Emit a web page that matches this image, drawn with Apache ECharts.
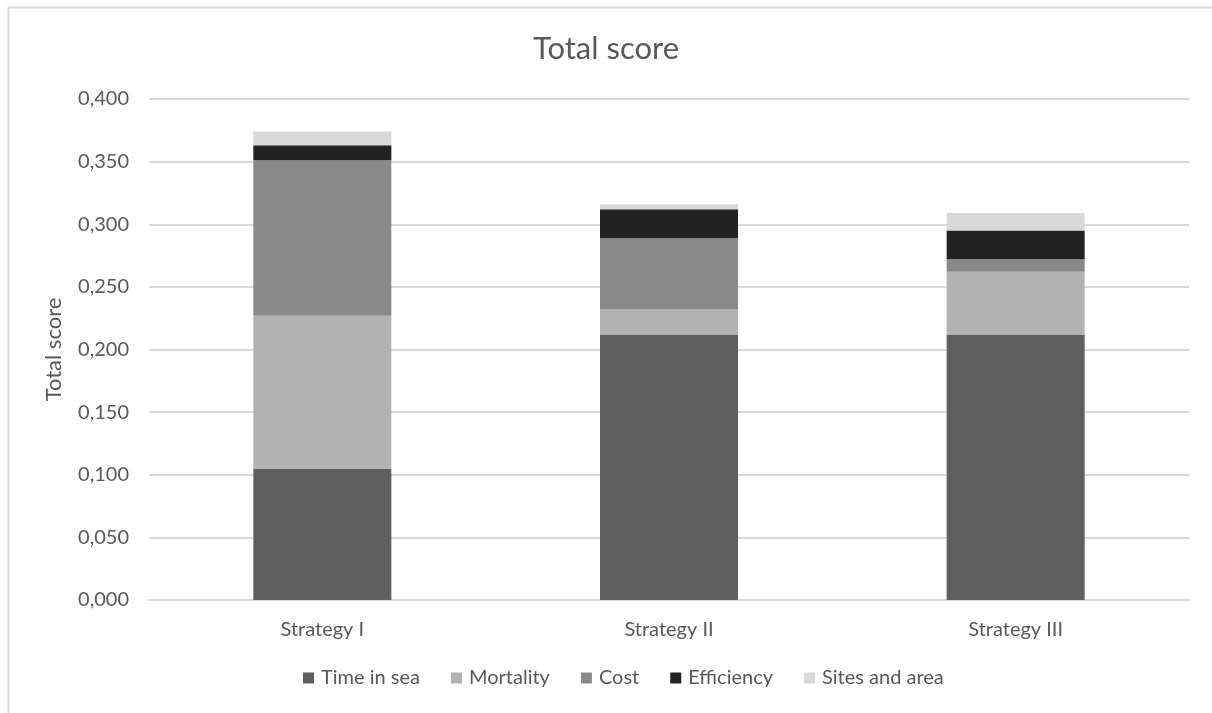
<!DOCTYPE html>
<html>
<head>
<meta charset="utf-8">
<script src="https://cdn.jsdelivr.net/npm/echarts@6/dist/echarts.min.js"></script>
<style>
  html, body { margin: 0; padding: 0; background: #fff; }
  #chart { width: 1212px; height: 713px; }
</style>
</head>
<body>
<div id="chart"></div>
<script>
const categories = ["Strategy I", "Strategy II", "Strategy III"];
const timeInSea = [0.105, 0.212, 0.212];
const mortality = [0.122, 0.020, 0.050];
const cost = [0.124, 0.057, 0.010];
const efficiency = [0.012, 0.023, 0.023];
const sitesAndArea = [0.011, 0.004, 0.014];
const yTicks = [0, 0.05, 0.1, 0.15, 0.2, 0.25, 0.3, 0.35, 0.4];

const font = "Lato";
const textColor = "#595959";

function bar(name, data, color) {
  return {
    name: name,
    type: "bar",
    stack: "total",
    barWidth: 138,
    data: data,
    itemStyle: { color: color },
  };
}

const option = {
  animation: false,
  textStyle: { fontFamily: font },
  title: {
    text: "Total score",
    left: "center",
    top: 28,
    textStyle: { fontFamily: font, fontSize: 31, fontWeight: "normal", color: textColor },
  },
  grid: { left: 149, right: 23, top: 99, bottom: 113 },
  legend: {
    bottom: 20,
    left: 298,
    itemWidth: 11,
    itemHeight: 11,
    itemGap: 31,
    icon: "rect",
    textStyle: { fontFamily: font, fontSize: 20, color: textColor, padding: [0, 0, 0, 2] },
    data: ["Time in sea", "Mortality", "Cost", "Efficiency", "Sites and area"],
  },
  xAxis: {
    type: "category",
    data: categories,
    axisTick: { show: false },
    axisLine: { lineStyle: { color: "#d9d9d9", width: 2 } },
    axisLabel: { fontFamily: font, fontSize: 20, color: textColor, margin: 20 },
  },
  yAxis: {
    type: "value",
    min: 0,
    max: 0.4,
    interval: 0.05,
    name: "Total score",
    nameLocation: "middle",
    nameGap: 84,
    nameTextStyle: { fontFamily: font, fontSize: 22, color: textColor },
    axisLine: { show: false },
    axisTick: { show: false },
    splitLine: { lineStyle: { color: "#d9d9d9", width: 2 } },
    axisLabel: {
      fontFamily: font,
      fontSize: 20,
      color: textColor,
      margin: 20,
      formatter: (v) => {
        const t = yTicks.find((x) => Math.abs(x - v) < 1e-9);
        return (t !== undefined ? t : v).toFixed(3).replace(".", ",");
      },
    },
  },
  graphic: [
    {
      type: "rect",
      shape: { x: 8.5, y: 7.5, width: 1300, height: 1000 },
      style: { fill: "none", stroke: "#d9d9d9", lineWidth: 2 },
      silent: true,
    },
  ],
  series: [
    bar("Time in sea", timeInSea, "#5f5f5f"),
    bar("Mortality", mortality, "#b2b2b2"),
    bar("Cost", cost, "#898989"),
    bar("Efficiency", efficiency, "#222222"),
    bar("Sites and area", sitesAndArea, "#d9d9d9"),
  ],
};

const myChart = echarts.init(document.getElementById("chart"));
myChart.setOption(option);
</script>
</body>
</html>
